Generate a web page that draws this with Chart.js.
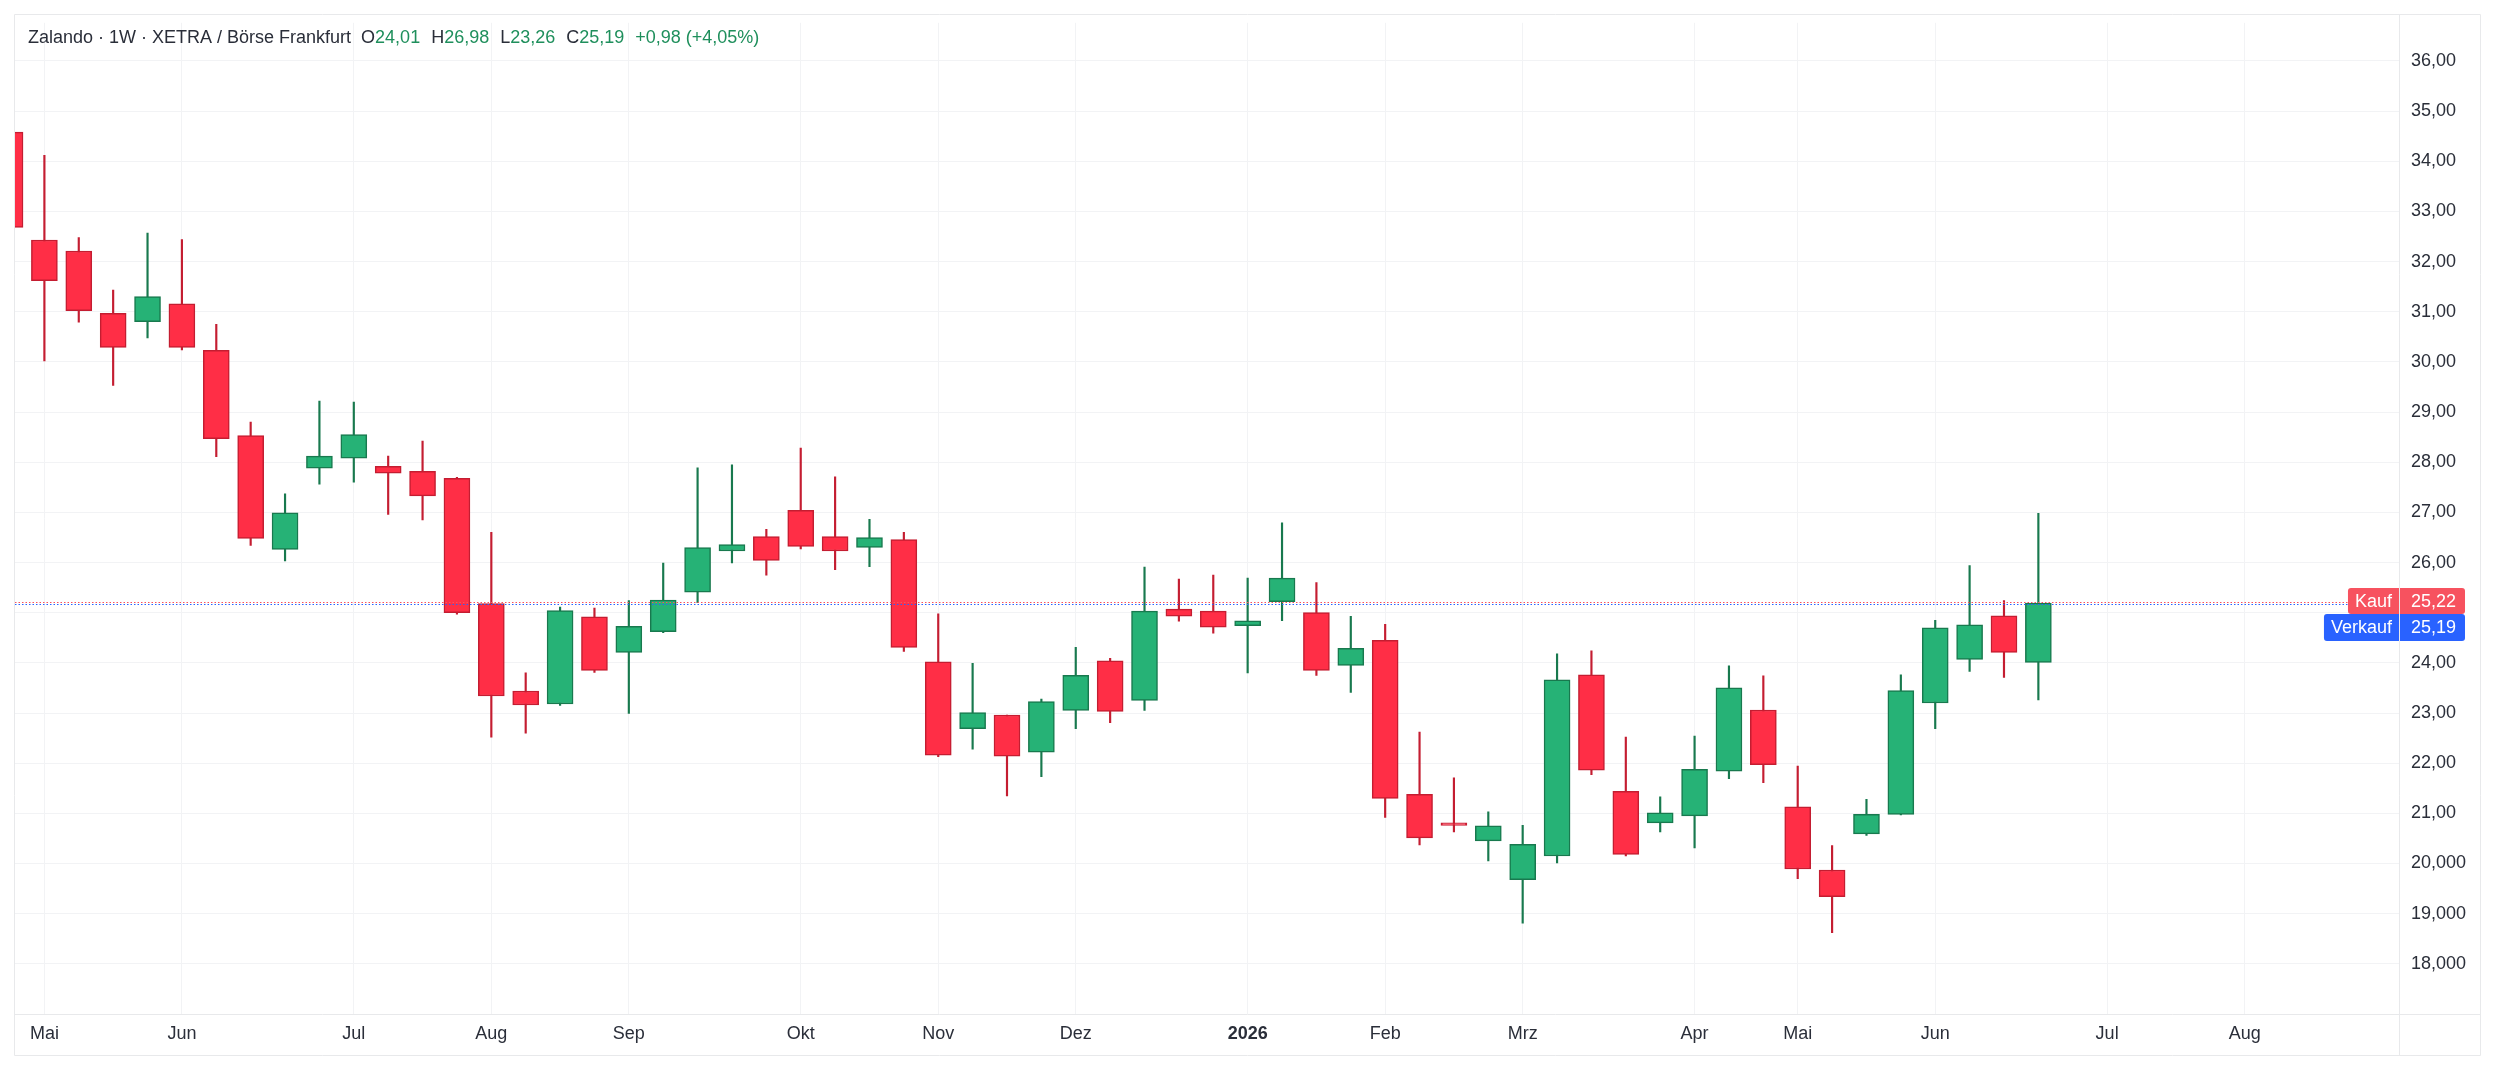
<!DOCTYPE html>
<html lang="de">
<head>
<meta charset="utf-8">
<title>Zalando · 1W</title>
<script src="https://cdn.jsdelivr.net/npm/chart.js@4.4.1/dist/chart.umd.min.js"></script>
<style>
  html, body { margin: 0; padding: 0; background: #fff; }
  canvas { display: block; }
</style>
</head>
<body>
<canvas id="chart" width="2495" height="1071"></canvas>
<script>
// weekly candles, oldest first
const open  = [34.58, 32.43, 32.21, 30.97, 30.80, 31.16, 30.23, 28.53, 26.26, 27.88,
               28.08, 27.92, 27.82, 27.68, 25.18, 23.44, 23.18, 24.92, 24.21, 24.62,
               25.41, 26.23, 26.52, 27.04, 26.52, 26.30, 26.46, 24.02, 22.69, 22.96,
               22.22, 23.05, 24.04, 23.25, 25.07, 25.03, 24.74, 25.22, 25.00, 23.95,
               24.45, 21.38, 20.81, 20.45, 19.68, 20.15, 23.76, 21.44, 20.81, 20.95,
               21.84, 23.06, 21.13, 19.87, 20.59, 20.98, 23.20, 24.07, 24.94, 24.01];
const high  = [34.90, 34.12, 32.48, 31.43, 32.57, 32.44, 30.75, 28.80, 27.37, 29.22,
               29.20, 28.12, 28.42, 27.70, 26.60, 23.80, 25.11, 25.09, 25.24, 25.99,
               27.89, 27.95, 26.66, 28.28, 27.71, 26.86, 26.60, 24.98, 23.99, 22.96,
               23.28, 24.31, 24.09, 25.91, 25.67, 25.75, 25.69, 26.79, 25.60, 24.93,
               24.77, 22.62, 21.71, 21.03, 20.76, 24.18, 24.24, 22.52, 21.33, 22.54,
               23.94, 23.74, 21.94, 20.36, 21.28, 23.76, 24.85, 25.94, 25.24, 26.98];
const low   = [32.50, 30.02, 30.79, 29.53, 30.48, 30.24, 28.11, 26.34, 26.03, 27.56,
               27.60, 26.96, 26.85, 24.97, 22.52, 22.60, 23.15, 23.81, 22.99, 24.60,
               25.20, 25.99, 25.75, 26.27, 25.86, 25.92, 24.23, 22.13, 22.28, 21.35,
               21.73, 22.69, 22.81, 23.05, 24.83, 24.59, 23.80, 24.84, 23.75, 23.41,
               20.92, 20.37, 20.63, 20.05, 18.81, 20.01, 21.77, 20.15, 20.63, 20.31,
               21.69, 21.61, 19.70, 18.62, 20.56, 20.97, 22.69, 23.83, 23.71, 23.26];
const close = [32.68, 31.62, 31.02, 30.29, 31.30, 30.29, 28.47, 26.48, 26.99, 28.12,
               28.55, 27.78, 27.33, 25.00, 23.34, 23.16, 25.04, 23.85, 24.73, 25.25,
               26.30, 26.36, 26.04, 26.32, 26.23, 26.50, 24.31, 22.16, 23.01, 22.14,
               23.23, 23.75, 23.03, 25.03, 24.93, 24.71, 24.84, 25.69, 23.85, 24.29,
               21.30, 20.51, 20.76, 20.75, 20.38, 23.66, 21.86, 20.18, 21.01, 21.88,
               23.50, 21.97, 19.89, 19.34, 20.98, 23.45, 24.70, 24.76, 24.21, 25.19];

// month ticks on the week axis
const monthTicks  = [1, 5, 10, 14, 18, 23, 27, 31, 36, 40, 44, 49, 52, 56, 61, 65];
const monthLabels = ['Mai', 'Jun', 'Jul', 'Aug', 'Sep', 'Okt', 'Nov', 'Dez', '2026',
                     'Feb', 'Mrz', 'Apr', 'Mai', 'Jun', 'Jul', 'Aug'];
const yearTick = 36;
const priceTicks = [18, 19, 20, 21, 22, 23, 24, 25, 26, 27, 28, 29, 30, 31, 32, 33, 34, 35, 36];

const kaufPrice = 25.22;
const verkaufPrice = 25.19;

const FONT = '"Liberation Sans", Arial, sans-serif';
const UP = '#26b276', UP_LINE = '#18794e';
const DOWN = '#ff2e46', DOWN_LINE = '#c41d31';
const GRID = '#f2f3f5', FRAME = '#e8e9eb', TEXT = '#2a2e39', HEAD_GREEN = '#1f8f5c';

const fmt = v => v.toFixed(2).replace('.', ',');
const isUp = close.map((c, i) => c >= open[i]);

const bodies = close.map((c, i) => ({ x: i, y: [open[i], c] }));
const wicks = close.map((c, i) => ({ x: i, y: [low[i], high[i]] }));

const overlay = {
  id: 'overlay',
  afterDraw(chart) {
    const { ctx, chartArea: a, scales: { y } } = chart;
    const fl = 14.5, ft = 14.5, fr = chart.width - 14.5, fb = chart.height - 15.5;
    ctx.save();

    // frame + axis separators
    ctx.strokeStyle = FRAME;
    ctx.lineWidth = 1;
    ctx.beginPath();
    ctx.rect(fl, ft, fr - fl, fb - ft);
    ctx.moveTo(a.right + 0.5, ft); ctx.lineTo(a.right + 0.5, fb);
    ctx.moveTo(fl, a.bottom + 0.5); ctx.lineTo(fr, a.bottom + 0.5);
    ctx.stroke();

    // price lines
    ctx.font = `18px ${FONT}`;
    const yK = y.getPixelForValue(kaufPrice);
    const yV = y.getPixelForValue(verkaufPrice);
    const kW = ctx.measureText('Kauf').width + 14;
    const vW = ctx.measureText('Verkauf').width + 14;
    const kTop = Math.round(yK - 14), kBot = kTop + 26;
    const vTop = Math.max(Math.round(yV - 13), kBot), vBot = vTop + 27;

    ctx.lineWidth = 1;
    ctx.setLineDash([1.5, 2]);
    const lineK = Math.round(yK) + 0.5;
    const lineV = Math.max(Math.round(yV) + 0.5, lineK + 2);
    [[lineV, '#2962ff'], [lineK, '#f7525f']].forEach(([py, col]) => {
      ctx.strokeStyle = col;
      ctx.beginPath();
      ctx.moveTo(a.left, py);
      ctx.lineTo(a.right - kW, py);
      ctx.stroke();
    });
    ctx.setLineDash([]);

    // badges
    const badge = (label, value, top, bot, w, col) => {
      ctx.fillStyle = col;
      ctx.beginPath();
      ctx.roundRect(a.right - w, top, w, bot - top, [3, 0, 0, 3]);
      ctx.fill();
      ctx.beginPath();
      ctx.roundRect(a.right + 1, top, 65, bot - top, [0, 3, 3, 0]);
      ctx.fill();
      ctx.fillStyle = '#fff';
      ctx.textBaseline = 'middle';
      ctx.textAlign = 'right';
      ctx.fillText(label, a.right - 7, (top + bot) / 2 + 1);
      ctx.textAlign = 'left';
      ctx.fillText(value, a.right + 12, (top + bot) / 2 + 1);
    };
    badge('Kauf', fmt(kaufPrice), kTop, kBot, kW, '#f7525f');
    badge('Verkauf', fmt(verkaufPrice), vTop, vBot, vW, '#2962ff');

    // header
    const n = close.length - 1;
    const chg = close[n] - close[n - 1];
    const pct = chg / close[n - 1] * 100;
    const parts = [
      ['Zalando · 1W · XETRA / Börse Frankfurt', TEXT, 10],
      ['O', TEXT, 0], [fmt(open[n]), HEAD_GREEN, 11],
      ['H', TEXT, 0], [fmt(high[n]), HEAD_GREEN, 11],
      ['L', TEXT, 0], [fmt(low[n]), HEAD_GREEN, 11],
      ['C', TEXT, 0], [fmt(close[n]), HEAD_GREEN, 11],
      [`${chg >= 0 ? '+' : ''}${fmt(chg)} (${pct >= 0 ? '+' : ''}${fmt(pct)}%)`, HEAD_GREEN, 0],
    ];
    ctx.textAlign = 'left';
    ctx.textBaseline = 'alphabetic';
    let x = 28;
    parts.forEach(([t, col, gap]) => {
      ctx.fillStyle = col;
      ctx.fillText(t, x, 43);
      x += ctx.measureText(t).width + gap;
    });
    ctx.restore();
  }
};

new Chart(document.getElementById('chart'), {
  type: 'bar',
  data: {
    datasets: [
      {
        label: 'body',
        data: bodies,
        order: 0,
        grouped: false,
        barThickness: 26,
        minBarLength: 2,
        borderWidth: 1.5,
        borderSkipped: false,
        backgroundColor: isUp.map(u => u ? UP : DOWN),
        borderColor: isUp.map(u => u ? UP_LINE : DOWN_LINE),
      },
      {
        label: 'wick',
        data: wicks,
        order: 1,
        grouped: false,
        barThickness: 1.5,
        borderWidth: 0,
        backgroundColor: isUp.map(u => u ? UP_LINE : DOWN_LINE),
      },
    ],
  },
  options: {
    responsive: false,
    animation: false,
    devicePixelRatio: 1,
    layout: { padding: { left: 15, top: 15, right: 15, bottom: 16 } },
    plugins: { legend: { display: false }, tooltip: { enabled: false } },
    scales: {
      x: {
        type: 'linear',
        offset: false,
        min: 0.145,
        max: 69.49,
        afterBuildTicks: s => { s.ticks = monthTicks.map(v => ({ value: v })); },
        afterFit: s => { s.height = 41; },
        grid: { color: GRID, drawTicks: false, offset: false },
        border: { display: false },
        ticks: {
          autoSkip: false,
          maxRotation: 0,
          padding: 9,
          color: TEXT,
          font: c => ({ family: FONT, size: 18, weight: c.tick && c.tick.value === yearTick ? 'bold' : 'normal' }),
          callback: v => monthLabels[monthTicks.indexOf(v)],
        },
      },
      y: {
        position: 'right',
        min: 17,
        max: 36.76,
        afterBuildTicks: s => { s.ticks = priceTicks.map(v => ({ value: v })); },
        afterFit: s => { s.width = 81; },
        grid: { color: GRID, drawTicks: false },
        border: { display: false },
        ticks: {
          padding: 12,
          color: TEXT,
          font: { family: FONT, size: 18 },
          // the source chart switches to three decimals below 21
          callback: v => v >= 21 ? v.toFixed(2).replace('.', ',') : v.toFixed(3).replace('.', ','),
        },
      },
    },
  },
  plugins: [overlay],
});
</script>
</body>
</html>
